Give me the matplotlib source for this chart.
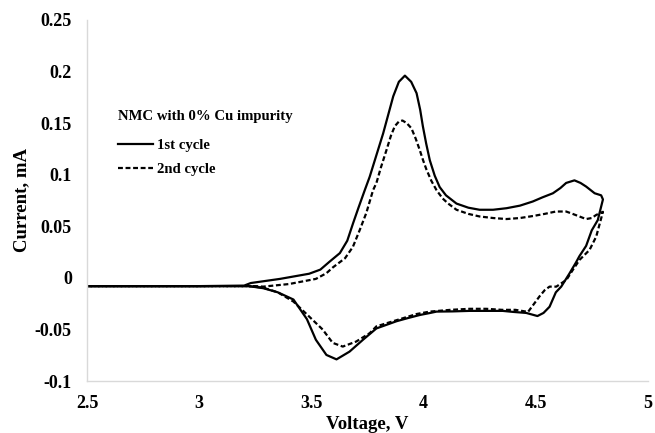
import matplotlib.pyplot as plt

plt.rcParams['font.family'] = 'Liberation Serif'
plt.rcParams['font.weight'] = 'bold'

# 1st cycle: anodic scan (up) then cathodic scan (down)
v1 = [2.50, 3.00, 3.20, 3.23, 3.36, 3.49, 3.54, 3.58, 3.627, 3.66, 3.686, 3.71, 3.738,
      3.76, 3.79, 3.82, 3.845, 3.865, 3.89, 3.917, 3.945, 3.969, 3.985, 3.997, 4.012,
      4.028, 4.05, 4.072, 4.10, 4.147, 4.20, 4.25, 4.31, 4.37, 4.43, 4.487, 4.53,
      4.577, 4.61, 4.636, 4.673, 4.70, 4.725, 4.763, 4.792, 4.80,
      4.777, 4.75, 4.725, 4.695, 4.68, 4.65, 4.614, 4.59, 4.562, 4.535, 4.508, 4.458,
      4.40, 4.353, 4.28, 4.206, 4.13, 4.058, 4.03, 3.983, 3.93, 3.88, 3.79, 3.73, 3.67,
      3.612, 3.567, 3.52, 3.48, 3.42, 3.35, 3.285, 3.22, 3.00, 2.50]
i1 = [-0.008, -0.008, -0.0075, -0.005, -0.001, 0.004, 0.008, 0.0155, 0.024, 0.036, 0.053, 0.068, 0.085,
      0.098, 0.119, 0.140, 0.160, 0.176, 0.190, 0.196, 0.190, 0.179, 0.163, 0.147, 0.130,
      0.114, 0.099, 0.088, 0.080, 0.072, 0.068, 0.066, 0.066, 0.0675, 0.070, 0.074, 0.078,
      0.082, 0.087, 0.092, 0.0945, 0.092, 0.0885, 0.082, 0.080, 0.076,
      0.056, 0.046, 0.031, 0.021, 0.015, 0.004, -0.0085, -0.014, -0.028, -0.034, -0.037, -0.034,
      -0.033, -0.032, -0.032, -0.032, -0.0325, -0.0327, -0.034, -0.036, -0.039, -0.042, -0.049, -0.060, -0.0715,
      -0.079, -0.0747, -0.060, -0.0400, -0.021, -0.014, -0.010, -0.008, -0.008, -0.008]

# 2nd cycle
v2 = [2.50, 3.00, 3.25, 3.285, 3.40, 3.52, 3.567, 3.595, 3.65, 3.685, 3.716, 3.745, 3.775,
      3.79, 3.81, 3.835, 3.855, 3.872, 3.89, 3.906, 3.925, 3.946, 3.965, 3.983, 3.998, 4.013,
      4.035, 4.058, 4.085, 4.11, 4.147, 4.20, 4.25, 4.31, 4.37, 4.43, 4.49, 4.54, 4.59, 4.636,
      4.665, 4.695, 4.725, 4.75, 4.77, 4.80,
      4.785, 4.77, 4.74, 4.696, 4.666, 4.637, 4.592, 4.562, 4.54, 4.517, 4.49, 4.466,
      4.41, 4.35, 4.28, 4.206, 4.12, 4.028, 3.97, 3.91, 3.85, 3.79, 3.76, 3.70, 3.64,
      3.595, 3.55, 3.49, 3.42, 3.35, 3.285, 3.22, 3.00, 2.50]
i2 = [-0.008, -0.008, -0.008, -0.0085, -0.006, -0.001, 0.0045, 0.010, 0.019, 0.030, 0.0466, 0.063, 0.085,
      0.092, 0.107, 0.124, 0.138, 0.147, 0.1515, 0.1525, 0.150, 0.145, 0.135, 0.124, 0.114, 0.105,
      0.094, 0.085, 0.077, 0.072, 0.066, 0.062, 0.0595, 0.058, 0.057, 0.058, 0.060, 0.062, 0.0643, 0.0643,
      0.062, 0.0595, 0.057, 0.058, 0.061, 0.064,
      0.052, 0.040, 0.027, 0.0175, 0.0078, -0.002, -0.0085, -0.0085, -0.012, -0.018, -0.026, -0.033,
      -0.031, -0.031, -0.030, -0.030, -0.031, -0.0327, -0.035, -0.039, -0.043, -0.047, -0.0536, -0.0617, -0.0666,
      -0.063, -0.050, -0.0375, -0.023, -0.014, -0.0095, -0.008, -0.008, -0.008]

fig = plt.figure(figsize=(6.55, 4.33), dpi=100)
ax = fig.add_axes([0.133, 0.12, 0.856, 0.834])

ax.plot(v1, i1, color='black', lw=1.6, label='1st cycle')
ax.plot(v2, i2, color='black', lw=1.6, ls=(0, (2.2, 1.2)), label='2nd cycle')

ax.set_xlim(2.5, 5)
ax.set_ylim(-0.1, 0.25)
ax.set_xticks([2.5, 3, 3.5, 4, 4.5, 5])
ax.set_xticklabels(['2.5', '3', '3.5', '4', '4.5', '5'])
ax.set_yticks([-0.1, -0.05, 0, 0.05, 0.1, 0.15, 0.2, 0.25])
ax.set_yticklabels(['-0.1', '-0.05', '0', '0.05', '0.1', '0.15', '0.2', '0.25'])
ax.tick_params(length=0, labelsize=13)
ax.tick_params(axis='x', pad=10)
ax.tick_params(axis='y', pad=11)

for side in ['top', 'right']:
    ax.spines[side].set_visible(False)
for side in ['left', 'bottom']:
    ax.spines[side].set_color('#d9d9d9')
    ax.spines[side].set_linewidth(1.0)

ax.set_xlabel('Voltage, V', fontsize=13.5, fontweight='bold')
ax.set_ylabel('Current, mA', fontsize=13.5, fontweight='bold')
ax.xaxis.set_label_coords(0.5, -0.098)
ax.yaxis.set_label_coords(-0.102, 0.5)

leg = ax.legend(title='NMC with 0% Cu impurity', loc='upper left',
                bbox_to_anchor=(0.18, 0.745), bbox_transform=fig.transFigure,
                frameon=False, alignment='left', fontsize=10.6, title_fontsize=10.6,
                handlelength=2.4, handletextpad=0.25, labelspacing=0.75,
                borderaxespad=0, borderpad=0)
leg.get_title().set_fontweight('bold')
leg._legend_box.sep = 11

plt.savefig('out.png', dpi=100)
